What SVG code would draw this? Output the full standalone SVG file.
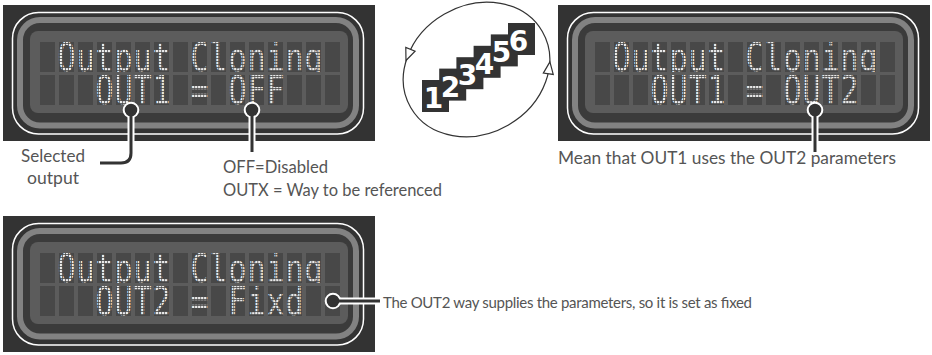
<svg xmlns="http://www.w3.org/2000/svg" xmlns:xlink="http://www.w3.org/1999/xlink" width="932" height="355" viewBox="0 0 932 355">
<style>
.bg{fill:#333}
.lbl{font-family:Lato,"Liberation Sans",sans-serif;font-size:16.5px;fill:#555}
.sm{font-size:15px}
.lcd{font-family:"DejaVu Sans Mono",monospace;font-size:38.4px;fill:url(#dots);text-anchor:middle}
.conW{fill:none;stroke:#fff;stroke-width:7}
.conD{fill:none;stroke:#333;stroke-width:3}
.dotc{fill:#333;stroke:#fff;stroke-width:2}
.dig{font-family:"DejaVu Sans",sans-serif;font-weight:bold;font-size:28px;fill:#fff;text-anchor:middle}
.box{fill:#333}
.arr{fill:#fff;stroke:#333;stroke-width:1.2}
</style>
<defs>
<pattern id="dots" patternUnits="userSpaceOnUse" width="3.85" height="3"><rect width="2.8" height="2.2" fill="#ececec"/></pattern>
<pattern id="cells" patternUnits="userSpaceOnUse" x="37" y="37" width="19" height="33"><rect width="15" height="30" fill="#484848"/></pattern>
<clipPath id="row1"><rect x="0" y="37" width="372" height="30"/></clipPath>
<clipPath id="row2"><rect x="0" y="70" width="372" height="30"/></clipPath>
<g id="frame">
<rect class="bg" x="0" y="0" width="372" height="136"/>
<rect x="9.5" y="7.5" width="351" height="121.5" rx="26" fill="none" stroke="#fff" stroke-width="1.5"/>
<rect x="17" y="15" width="336" height="105.5" rx="20" fill="#3b3b3b" stroke="#828282" stroke-width="6"/>
<rect x="27" y="26" width="318" height="82" rx="8" fill="#5c5c5c"/>
<rect x="37" y="37" width="300" height="63" fill="url(#cells)"/>
</g>
</defs>
<rect width="932" height="355" fill="#fff"/>

<g id="panel-off" transform="translate(3,5)">
<use xlink:href="#frame"/>
<g clip-path="url(#row1)"><text class="lcd" transform="scale(0.78,1)" y="66" x="81.41 105.77 130.13 154.49 178.85 203.21 227.56 251.92 276.28 300.64 325 349.36 373.72 398.08">Output Cloning</text></g>
<g clip-path="url(#row2)"><text class="lcd" transform="scale(0.78,1)" y="99" x="130.13 154.49 178.85 203.21 227.56 251.92 276.28 300.64 325 349.36">OUT1 = OFF</text></g>
</g>

<g id="panel-out2" transform="translate(558,5)">
<use xlink:href="#frame"/>
<g clip-path="url(#row1)"><text class="lcd" transform="scale(0.78,1)" y="66" x="81.41 105.77 130.13 154.49 178.85 203.21 227.56 251.92 276.28 300.64 325 349.36 373.72 398.08">Output Cloning</text></g>
<g clip-path="url(#row2)"><text class="lcd" transform="scale(0.78,1)" y="99" x="130.13 154.49 178.85 203.21 227.56 251.92 276.28 300.64 325 349.36 373.72">OUT1 = OUT2</text></g>
</g>

<g id="panel-fixd" transform="translate(3,216)">
<use xlink:href="#frame"/>
<g clip-path="url(#row1)"><text class="lcd" transform="scale(0.78,1)" y="66" x="81.41 105.77 130.13 154.49 178.85 203.21 227.56 251.92 276.28 300.64 325 349.36 373.72 398.08">Output Cloning</text></g>
<g clip-path="url(#row2)"><text class="lcd" transform="scale(0.78,1)" y="99" x="130.13 154.49 178.85 203.21 227.56 251.92 276.28 300.64 325 349.36 373.72">OUT2 = Fixd</text></g>
</g>

<g id="cycle">
<ellipse cx="476.5" cy="69.5" rx="76" ry="64" transform="rotate(-30 476.5 69.5)" fill="none" stroke="#333" stroke-width="1.2"/>
<polygon class="arr" points="6,0 -6,-5 -6,5" transform="translate(408.2,54.9) rotate(111.8)"/>
<polygon class="arr" points="6,0 -6,-5 -6,5" transform="translate(549.1,67.8) rotate(-82.3)"/>
<rect class="box" x="422" y="80" width="27" height="32"/>
<rect class="box" x="439.2" y="68.6" width="27" height="32"/>
<rect class="box" x="456.4" y="57.2" width="27" height="32"/>
<rect class="box" x="473.6" y="45.8" width="27" height="32"/>
<rect class="box" x="490.8" y="34.4" width="27" height="32"/>
<rect class="box" x="508" y="23" width="27" height="32"/>
<text class="dig" x="433.5" y="108">1</text>
<text class="dig" x="450.5" y="96.5">2</text>
<text class="dig" x="467.5" y="85">3</text>
<text class="dig" x="484.5" y="73.5">4</text>
<text class="dig" x="501.5" y="62">5</text>
<text class="dig" x="518.5" y="50.5">6</text>
</g>

<g id="connectors">
<path class="conW" d="M131,110 V153 Q131,163 121,163 H100"/>
<path class="conW" d="M252,110 V152"/>
<path class="conW" d="M815,110 V152"/>
<path class="conW" d="M333,301 H380"/>
<circle class="dotc" cx="131" cy="110" r="7.3"/>
<circle class="dotc" cx="252" cy="110" r="7.3"/>
<circle class="dotc" cx="815" cy="110" r="7.3"/>
<circle class="dotc" cx="333" cy="301" r="7.3"/>
<path class="conD" d="M131,110 V153 Q131,163 121,163 H100"/>
<path class="conD" d="M252,110 V152"/>
<path class="conD" d="M815,110 V152"/>
<path class="conD" d="M333,301 H380"/>
</g>

<g id="labels">
<text class="lbl" x="21" y="162" textLength="64" lengthAdjust="spacingAndGlyphs">Selected</text>
<text class="lbl" x="27" y="184" textLength="52" lengthAdjust="spacingAndGlyphs">output</text>
<text class="lbl" x="223" y="173" textLength="105" lengthAdjust="spacingAndGlyphs">OFF=Disabled</text>
<text class="lbl" x="223" y="195.5" textLength="219" lengthAdjust="spacingAndGlyphs">OUTX = Way to be referenced</text>
<text class="lbl" x="558" y="164" textLength="338" lengthAdjust="spacingAndGlyphs">Mean that OUT1 uses the OUT2 parameters</text>
<text class="lbl sm" x="383" y="308" textLength="369" lengthAdjust="spacing">The OUT2 way supplies the parameters, so it is set as fixed</text>
</g>
</svg>
